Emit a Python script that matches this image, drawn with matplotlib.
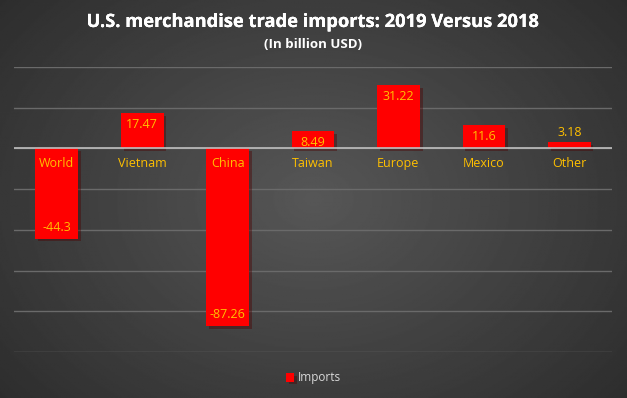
import numpy as np
import matplotlib.pyplot as plt
import matplotlib.patheffects as pe

regions = ['World', 'Vietnam', 'China', 'Taiwan', 'Europe', 'Mexico', 'Other']
imports = [-44.3, 17.47, -87.26, 8.49, 31.22, 11.6, 3.18]
value_labels = ['-44.3', '17.47', '-87.26', '8.49', '31.22', '11.6', '3.18']

gold = '#FFC000'
plt.rcParams['font.family'] = ['Open Sans', 'DejaVu Sans']

fig = plt.figure(figsize=(6.27, 3.98), dpi=100)

# radial gray background
bg = fig.add_axes([0, 0, 1, 1], zorder=-10)
yy, xx = np.mgrid[-1:1:300j, -1:1:470j]
r = np.sqrt((xx * 0.9) ** 2 + (yy * 0.75) ** 2)
shade = 0.34 - 0.18 * np.clip(r, 0, 1.3) / 1.3
bg.imshow(shade, cmap='gray', vmin=0, vmax=1, aspect='auto',
          extent=[0, 1, 0, 1])
bg.axis('off')

ax = fig.add_axes([14 / 627, 1 - 352 / 398, 598 / 627, 285 / 398])
ax.set_facecolor('none')
x = np.arange(len(regions))
bars = ax.bar(x, imports, width=0.5, color='#FF0000', zorder=3,
              label='Imports')
for b in bars:
    b.set_path_effects([pe.SimplePatchShadow(offset=(2, -2), alpha=0.4),
                        pe.Normal()])
ax.set_xlim(-0.5, len(regions) - 0.5)
ax.set_ylim(-100, 40)
ax.set_yticks(np.arange(-100, 41, 20))
ax.grid(axis='y', color='#6a6a6a', linewidth=1, zorder=0)
ax.axhline(0, color='#bfbfbf', linewidth=1.2, zorder=4)
ax.tick_params(left=False, bottom=False, labelleft=False, labelbottom=False)
for s in ax.spines.values():
    s.set_visible(False)

for i, (v, lab) in enumerate(zip(imports, value_labels)):
    ax.text(i, -7.5, regions[i], ha='center', va='center', color=gold,
            fontsize=9, zorder=5)
    if abs(v) < 6:
        ax.text(i, v + 1.5, lab, ha='center', va='bottom', color=gold,
                fontsize=9, zorder=5)
    elif v > 0:
        ax.text(i, v - 2.5, lab, ha='center', va='top', color=gold,
                fontsize=9, zorder=5)
    else:
        ax.text(i, v + 2.5, lab, ha='center', va='bottom', color=gold,
                fontsize=9, zorder=5)

shadow = [pe.withSimplePatchShadow(offset=(1, -1), alpha=0.5)]
fig.text(0.5, 1 - 22 / 398, 'U.S. merchandise trade imports: 2019 Versus 2018',
         ha='center', va='center', color='white', fontsize=13.2,
         fontweight='bold',
         path_effects=[pe.withStroke(linewidth=0), pe.Normal()])
fig.text(0.5, 1 - 44 / 398, '(In billion USD)', ha='center', va='center',
         color='white', fontsize=9.5, fontweight='bold')

leg = fig.legend(loc='center', bbox_to_anchor=(0.5, 1 - 378 / 398),
                 frameon=False, fontsize=8.5, handlelength=0.7,
                 handleheight=0.7, handletextpad=0.3)
for t in leg.get_texts():
    t.set_color('#d9d9d9')

plt.savefig('out.png', dpi=100)
